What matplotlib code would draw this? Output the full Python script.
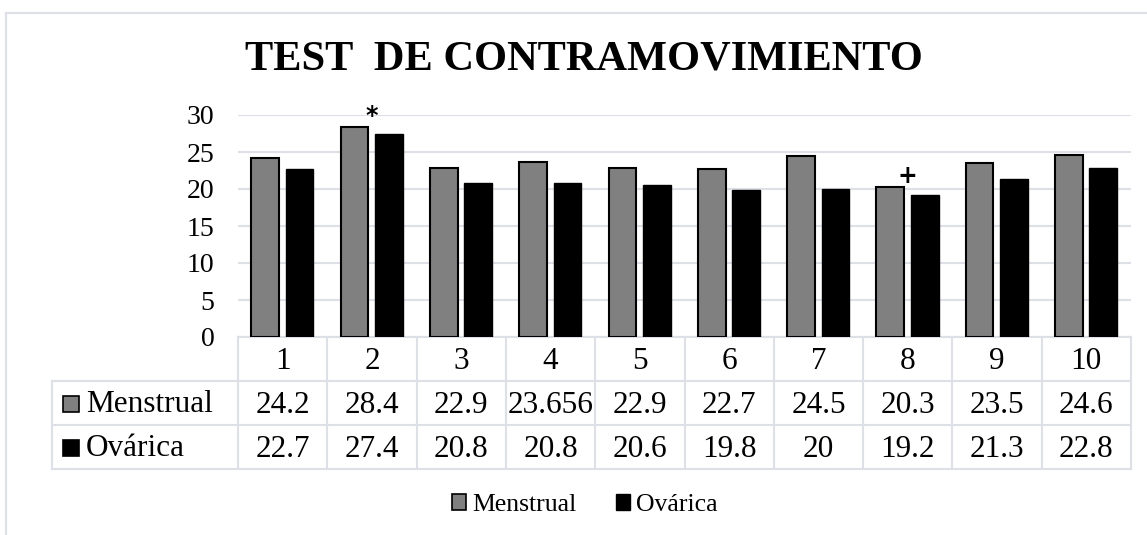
import numpy as np
import matplotlib.pyplot as plt
from matplotlib.patches import Patch, Rectangle
from matplotlib.lines import Line2D
import matplotlib.transforms as mtransforms

# datos
categorias = ['1', '2', '3', '4', '5', '6', '7', '8', '9', '10']
menstrual = [24.2, 28.4, 22.9, 23.656, 22.9, 22.7, 24.5, 20.3, 23.5, 24.6]
ovarica = [22.7, 27.4, 20.8, 20.8, 20.6, 19.8, 20, 19.2, 21.3, 22.8]
series = ['Menstrual', 'Ovárica']
marcas = {1: '*', 7: '+'}   # indice -> simbolo sobre el grupo

W, H = 1147, 535
GRIS = '#808080'
LINEA = '#dde1e7'
plt.rcParams['font.family'] = ['Liberation Serif', 'DejaVu Serif']

def fx(x):
    return x / W

def fy(y):
    return 1 - y / H

fig = plt.figure(figsize=(W / 100, H / 100), dpi=100)
ax = fig.add_axes([fx(238), fy(337), fx(1131) - fx(238), (337 - 115) / H])

x = np.arange(len(categorias))
ancho = 0.31
ax.bar(x - 0.195, menstrual, ancho, color=GRIS, edgecolor='black', linewidth=1.5, zorder=3)
ax.bar(x + 0.19, ovarica, ancho, color='black', edgecolor='black', linewidth=1.0, zorder=3)

for i, s in marcas.items():
    tope = max(menstrual[i], ovarica[i])
    ax.text(i, tope + 1.5, s, ha='center', va='center', fontsize=17,
            fontweight='bold', family='DejaVu Sans', zorder=4)

ax.set_xlim(-0.5, len(categorias) - 0.5)
ax.set_ylim(0, 30)
ax.set_yticks(range(0, 31, 5))
ax.set_xticks([])
ax.tick_params(axis='y', length=0, pad=17, labelsize=20)
ax.yaxis.grid(True, color=LINEA, linewidth=1.5, zorder=0)
for sp in ax.spines.values():
    sp.set_visible(False)

# tabla de datos bajo el eje
tr = mtransforms.blended_transform_factory(ax.transData, ax.transAxes)
alto = 44 / 222
x_izq = -0.5 - (238 - 52) / 89.3
x_der = len(categorias) - 0.5
kw = dict(color=LINEA, linewidth=1.5, transform=tr, clip_on=False)
ax.plot([-0.5, x_der], [0, 0], **kw)
for k in range(1, 4):
    ax.plot([x_izq, x_der], [-k * alto, -k * alto], **kw)
for b in np.arange(-0.5, len(categorias)):
    ax.plot([b, b], [0, -3 * alto], **kw)
ax.plot([x_izq, x_izq], [-alto, -3 * alto], **kw)

fs = 22.5
for i, c in enumerate(categorias):
    ax.text(i, -0.55 * alto, c, ha='center', va='center', fontsize=fs, transform=tr)
    ax.text(i, -1.55 * alto, f'{menstrual[i]:g}', ha='center', va='center', fontsize=fs, transform=tr)
    ax.text(i, -2.55 * alto, f'{ovarica[i]:g}', ha='center', va='center', fontsize=fs, transform=tr)

for r, (nombre, col) in enumerate(zip(series, [GRIS, 'black'])):
    yc = 404 + r * 44
    fig.patches.append(Rectangle((fx(63), fy(yc + 8)), fx(16), 16 / H, facecolor=col,
                                 edgecolor='black', linewidth=1.2, transform=fig.transFigure))
    fig.text(fx(86), fy(yc), nombre, ha='left', va='center', fontsize=fs)

# leyenda
handles = [Patch(facecolor=GRIS, edgecolor='black', linewidth=1.2),
           Patch(facecolor='black', edgecolor='black')]
fig.legend(handles, series, loc='center', bbox_to_anchor=(fx(585), fy(505)), ncol=2,
           frameon=False, fontsize=18.5, handlelength=0.55, handleheight=0.55,
           handletextpad=0.22, columnspacing=1.55, borderaxespad=0)

fig.text(fx(584), fy(60), 'TEST  DE CONTRAMOVIMIENTO', ha='center', va='center',
         fontsize=30.5, fontweight='bold')

# marco del area del grafico
fig.add_artist(Line2D([fx(6), 1], [fy(13), fy(13)], color=LINEA, linewidth=1.5))
fig.add_artist(Line2D([fx(6), fx(6)], [fy(13), 0], color=LINEA, linewidth=1.5))

fig.savefig('out.png', dpi=100)
